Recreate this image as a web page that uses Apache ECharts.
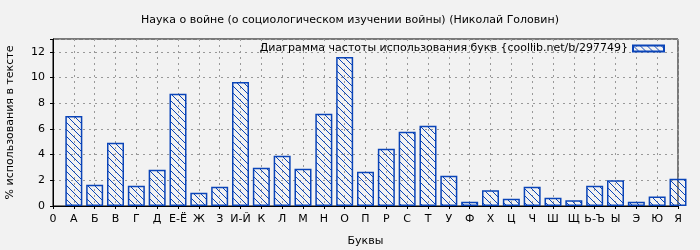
<!DOCTYPE html>
<html>
<head>
<meta charset="utf-8">
<script src="https://cdn.jsdelivr.net/npm/echarts@6/dist/echarts.min.js"></script>
<style>
html,body{margin:0;padding:0;background:#f2f2f2;}
#c{width:700px;height:250px;}
</style>
</head>
<body>
<div id="c"></div>
<script>
const titleText = "Наука о войне (о социологическом изучении войны) (Николай Головин)";
const legendText = "Диаграмма частоты использования букв {coollib.net/b/297749}";
const tickLabels = ["0","А","Б","В","Г","Д","Е-Ё","Ж","З","И-Й","К","Л","М","Н","О","П","Р","С","Т","У","Ф","Х","Ц","Ч","Ш","Щ","Ь-Ъ","Ы","Э","Ю","Я"];
const letterValues = [7.0,1.66,4.93,1.58,2.83,8.73,1.04,1.5,9.66,2.98,3.91,2.9,7.18,11.6,2.67,4.46,5.78,6.25,2.36,0.34,1.22,0.57,1.5,0.65,0.44,1.58,2.0,0.34,0.73,2.13];
const yTicks = [0,2,4,6,8,10,12];

const blue = '#0a44b8';
function hatch(){
  const n = 7;
  const c = document.createElement('canvas');
  c.width = n; c.height = n;
  const g = c.getContext('2d');
  g.strokeStyle = blue; g.lineWidth = 1;
  g.beginPath();
  g.moveTo(-1,-1); g.lineTo(n+1,n+1);
  g.moveTo(-1,n-1); g.lineTo(1,n+1);
  g.moveTo(n-1,-1); g.lineTo(n+1,1);
  g.stroke();
  return c;
}
const pat = {image: hatch(), repeat: 'repeat'};

const chart = echarts.init(document.getElementById('c'));
const font = 'DejaVu Sans';
chart.setOption({
  backgroundColor: '#f2f2f2',
  animation: false,
  title: {text: titleText, left: 'center', top: 10,
    textStyle: {fontFamily: font, fontSize: 11, fontWeight: 'normal', color: '#000'}},
  legend: {right: 30, top: 38, align: 'right', itemWidth: 31, itemHeight: 6, itemGap: 11,
    textStyle: {fontFamily: font, fontSize: 11, color: '#000', padding: [0,0,0,0]},
    data: [{name: legendText, icon: 'rect'}]},
  grid: {left: 53, right: 22, top: 39, bottom: 44, show: true, borderColor: '#000', borderWidth: 1,
    containLabel: false, outerBoundsMode: 'none'},
  xAxis: {type: 'value', min: 0, max: 30, interval: 1,
    name: 'Буквы', nameLocation: 'middle', nameGap: 30,
    nameTextStyle: {fontFamily: font, fontSize: 11, color: '#000'},
    axisLine: {show: true, lineStyle: {color: '#000'}},
    axisTick: {show: true, length: 3, lineStyle: {color: '#000'}},
    axisLabel: {fontFamily: font, fontSize: 11, color: '#000', margin: 8, formatter: v => tickLabels[v] ?? ''},
    splitLine: {show: true, lineStyle: {color: '#999', type: [2,4], width: 1}}},
  yAxis: {type: 'value', min: 0, max: 13, interval: 2,
    name: '% использования в тексте', nameLocation: 'middle', nameGap: 37,
    nameTextStyle: {fontFamily: font, fontSize: 11, color: '#000'},
    axisLine: {show: true, lineStyle: {color: '#000'}},
    axisTick: {show: true, length: 3, lineStyle: {color: '#000'}},
    axisLabel: {fontFamily: font, fontSize: 11, color: '#000', margin: 8, formatter: v => yTicks.includes(v) ? String(v) : ''},
    splitLine: {show: true, lineStyle: {color: '#999', type: [2,4], width: 1}}},
  series: [{
    name: legendText, type: 'bar', barWidth: 17, clip: true,
    data: letterValues.map((v,i) => [i+1, v]),
    itemStyle: {color: pat, borderColor: blue, borderWidth: 1.5}
  }]
});
</script>
</body>
</html>
